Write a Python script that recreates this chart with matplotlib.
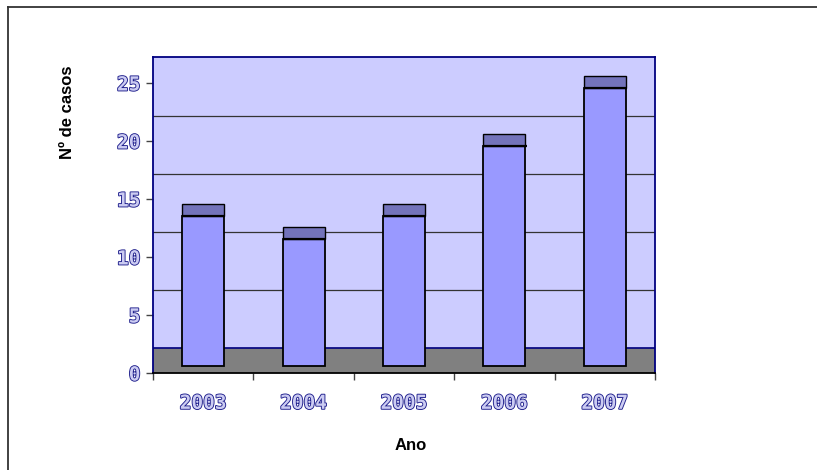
import matplotlib
matplotlib.use("Agg")
import matplotlib.pyplot as plt
import matplotlib.patheffects as pe
from matplotlib.lines import Line2D

years = ["2003", "2004", "2005", "2006", "2007"]
cases = [14, 12, 14, 20, 25]
yticks = [0, 5, 10, 15, 20, 25]

W, H = 817, 470
fig = plt.figure(figsize=(W / 100, H / 100), dpi=100)
fig.patch.set_facecolor("white")

# outer frame (top and left edges only, as in reference)
fig.add_artist(Line2D([8 / W, 8 / W], [0, 1 - 7 / H], color="#333333", lw=1.3, transform=fig.transFigure))
fig.add_artist(Line2D([8 / W, 1], [1 - 7 / H, 1 - 7 / H], color="#333333", lw=1.3, transform=fig.transFigure))

left, right, bottom, top = 153, 655, 373, 57
ax = fig.add_axes([left / W, 1 - bottom / H, (right - left) / W, (bottom - top) / H])

ppu = (373 - 83) / 25.0  # pixels per unit
ymax = (bottom - top) / ppu
floor = 25 / ppu  # 3D depth offset of back wall
base = 7 / ppu
front_off = 0.45
top_off = 0.57

ax.set_xlim(0, len(years))
ax.set_ylim(0, ymax)
ax.set_facecolor("#CCCCFF")

# floor
ax.axhspan(0, floor, color="#808080", zorder=1)
ax.axhline(floor, color="#000080", lw=1.2, zorder=2)
# gridlines on back wall
for t in yticks[1:]:
    if t + floor < ymax - 0.1:
        ax.axhline(t + floor, color="#333333", lw=0.9, zorder=1.5)

xs = [i + 0.5 for i in range(len(years))]
w = 0.42
fronts = [v - front_off for v in cases]
ax.bar(xs, [f - base for f in fronts], bottom=base, width=w, color="#9999FF",
       edgecolor="black", lw=1.3, zorder=3)
ax.bar(xs, [top_off + front_off] * len(cases), bottom=fronts, width=w, color="#7373BB",
       edgecolor="black", lw=1.0, zorder=3)
for x, f in zip(xs, fronts):
    ax.plot([x - w / 2, x + w / 2 + 0.012], [f, f], color="black", lw=1.6, zorder=4,
            solid_capstyle="butt")

for s in ["left", "top", "right"]:
    ax.spines[s].set_color("#000080")
    ax.spines[s].set_linewidth(1.3)
ax.spines["bottom"].set_color("black")
ax.spines["bottom"].set_linewidth(1.3)

lab_fx = [pe.withStroke(linewidth=1.3, foreground="#1E1E8C")]
ax.set_yticks(yticks)
ax.set_yticklabels([str(t) for t in yticks])
ax.tick_params(axis="y", direction="out", length=5, width=1, color="#444444", pad=4)
ax.set_xticks(range(len(years) + 1))
ax.set_xticklabels([])
ax.set_xticks(xs, minor=True)
ax.set_xticklabels(years, minor=True)
ax.tick_params(axis="x", which="major", direction="out", length=5, width=1, color="#444444")
ax.tick_params(axis="x", which="minor", length=0, pad=15)
for lab in ax.get_yticklabels() + ax.get_xticklabels(minor=True):
    lab.set_fontfamily("DejaVu Sans Mono")
    lab.set_fontsize(14)
    lab.set_fontweight("bold")
    lab.set_color("#CCCCF2")
    lab.set_path_effects(lab_fx)

fig.text(68 / W, 1 - 112 / H, "Nº de casos", rotation=90, ha="center", va="center",
         fontsize=12, fontweight="bold", fontfamily="Liberation Sans")
fig.text(411 / W, 1 - 446 / H, "Ano", ha="center", va="center",
         fontsize=12, fontweight="bold", fontfamily="Liberation Sans")

fig.savefig("out.png", dpi=100)
